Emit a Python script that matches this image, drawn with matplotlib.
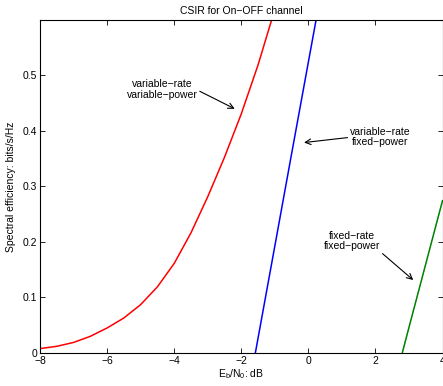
import numpy as np
import matplotlib
matplotlib.use('Agg')
import matplotlib.pyplot as plt

plt.rcParams['font.family'] = ['Liberation Sans', 'DejaVu Sans']
plt.rcParams['font.size'] = 7.5
plt.rcParams['mathtext.fontset'] = 'custom'
plt.rcParams['mathtext.rm'] = 'Liberation Sans'

# variable-rate variable-power
x_vrvp = [-8, -7.5, -7, -6.5, -6, -5.5, -5, -4.5, -4, -3.5, -3, -2.5, -2, -1.5, -1]
y_vrvp = [0.008, 0.012, 0.019, 0.030, 0.045, 0.063, 0.087, 0.119, 0.161, 0.216,
          0.281, 0.352, 0.430, 0.518, 0.618]

# variable-rate fixed-power
x_vrfp = [-1.58, -1.0, -0.5, 0.0, 0.5]
y_vrfp = [0.0, 0.192, 0.358, 0.523, 0.688]

# fixed-rate fixed-power
x_frfp = [2.80, 3.0, 3.5, 4.0]
y_frfp = [0.0, 0.046, 0.160, 0.274]

xticks = [-8, -6, -4, -2, 0, 2, 4]
yticks = [0, 0.1, 0.2, 0.3, 0.4, 0.5]

fig = plt.figure(figsize=(4.43, 3.86), dpi=100)
ax = fig.add_axes([40/443, 1-353/386, 402.5/443, 333/386])

ax.plot(x_vrvp, y_vrvp, color=(1, 0, 0), lw=1.1)
ax.plot(x_vrfp, y_vrfp, color=(0, 0, 1), lw=1.1)
ax.plot(x_frfp, y_frfp, color=(0, 0.5, 0), lw=1.1)

ax.set_xlim(-8, 4)
ax.set_ylim(0, 0.599)
ax.set_xticks(xticks)
ax.set_yticks(yticks)
ax.set_yticklabels(['0', '0.1', '0.2', '0.3', '0.4', '0.5'])
ax.tick_params(direction='in', top=True, right=True, length=3.5, width=0.6, pad=2)
for s in ax.spines.values():
    s.set_linewidth(0.8)

ax.set_title('CSIR for On\u2212OFF channel', fontsize=7.5, pad=4)
ax.set_xlabel(r'E$_\mathregular{b}$/N$_\mathregular{0}$: dB', labelpad=1)
ax.set_ylabel('Spectral efficiency: bits/s/Hz', labelpad=5)

arrow = dict(arrowstyle='->', color='black', lw=0.8, mutation_scale=10)

ax.text(-4.36, 0.474, 'variable\u2212rate\nvariable\u2212power', ha='center', va='center',
        linespacing=1.05)
ax.annotate('', xy=(-2.12, 0.437), xytext=(-3.31, 0.473), arrowprops=arrow)

ax.text(2.15, 0.389, 'variable\u2212rate\nfixed\u2212power', ha='center', va='center',
        linespacing=1.05)
ax.annotate('', xy=(-0.21, 0.378), xytext=(1.25, 0.388), arrowprops=arrow)

ax.text(1.31, 0.202, 'fixed\u2212rate\nfixed\u2212power', ha='center', va='center',
        linespacing=1.05)
ax.annotate('', xy=(3.19, 0.128), xytext=(2.15, 0.182), arrowprops=arrow)

fig.savefig('out.png', dpi=100)
